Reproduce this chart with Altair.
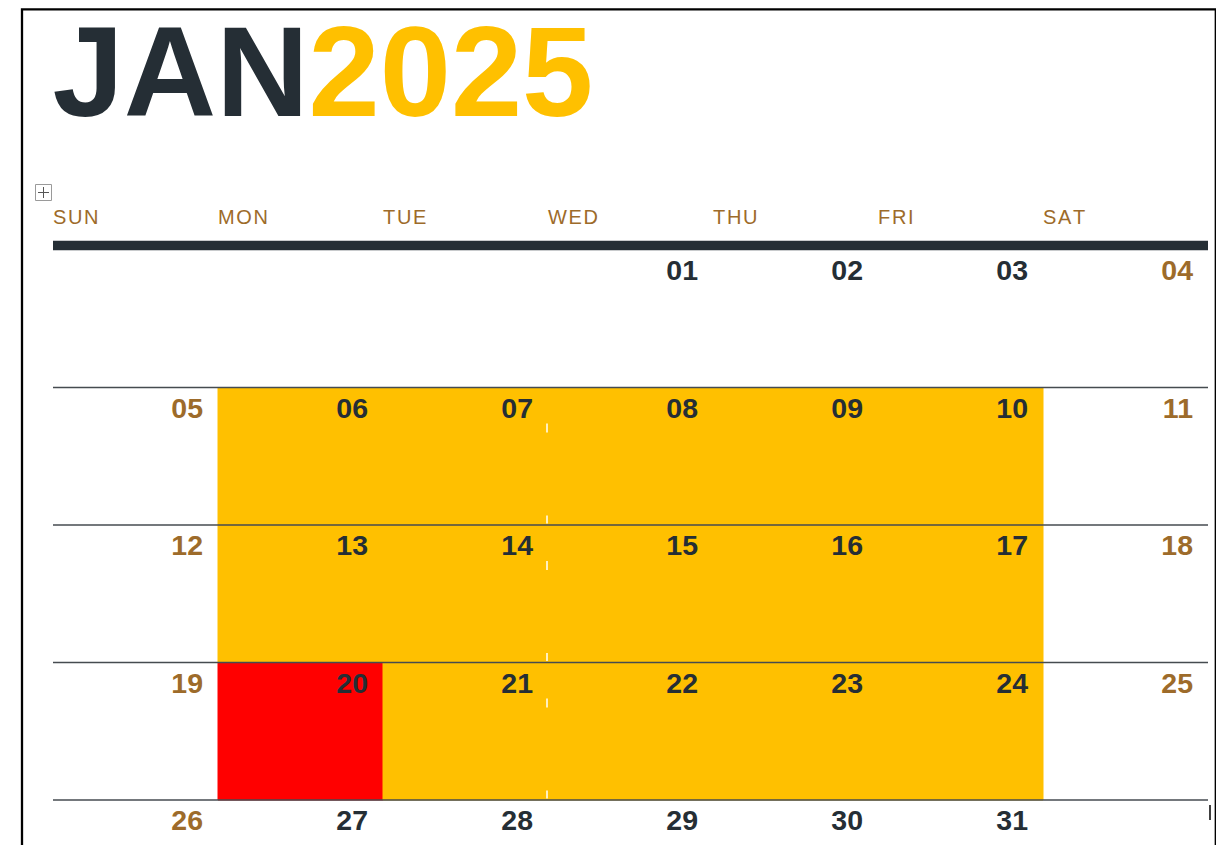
import datetime
import altair as alt
import pandas as pd

# ---- data ----
title_month = ["JAN"]
title_year = ["2025"]
weekday_names = ["SUN", "MON", "TUE", "WED", "THU", "FRI", "SAT"]
day_labels = ["01", "02", "03", "04", "05", "06", "07", "08", "09", "10",
              "11", "12", "13", "14", "15", "16", "17", "18", "19", "20",
              "21", "22", "23", "24", "25", "26", "27", "28", "29", "30", "31"]
yellow_days = [6, 7, 8, 9, 10, 13, 14, 15, 16, 17, 21, 22, 23, 24]
red_days = [20]
row_lines = [1, 2, 3, 4]
artifact_rows = [1, 2, 3]

DARK = "#252E35"
GOLD = "#FFC000"
BROWN = "#9D6B2A"
RED = "#FF0000"
FONT = "Liberation Sans"

# ---- tables ----
first = datetime.date(2025, 1, 1)
offset = (first.weekday() + 1) % 7  # Sunday-first column of day 1
recs = []
for i, lab in enumerate(day_labels):
    d = i + 1
    pos = offset + i
    col, row = pos % 7, pos // 7
    if d in red_days:
        fill = "red"
    elif d in yellow_days:
        fill = "yellow"
    else:
        fill = "none"
    recs.append({"day": d, "label": lab, "col": col, "col2": col + 1,
                 "row": row, "row2": row + 1,
                 "weekend": bool(col in (0, 6)), "fill": fill})
days_df = pd.DataFrame(recs)
cells_df = days_df[days_df["fill"] != "none"]
head_df = pd.DataFrame({"name": ["\u200a".join(n) for n in weekday_names],
                        "col": list(range(7)), "row": [0] * 7})
lines_df = pd.DataFrame({"row": row_lines, "x0": [0] * len(row_lines), "x1": [7] * len(row_lines)})
bar_df = pd.DataFrame({"row": [0], "x0": [0], "x1": [7]})
art_df = pd.DataFrame({"row": artifact_rows, "col": [3] * len(artifact_rows)})
cursor_df = pd.DataFrame({"row": [4], "col": [7]})

XS = alt.Scale(domain=[0, 7], range=[45, 1200], zero=False, nice=False)
YS = alt.Scale(domain=[0, 5], range=[242, 929.5], zero=False, nice=False)


def X(f):
    return alt.X(f"{f}:Q", scale=XS, axis=None)


def Y(f):
    return alt.Y(f"{f}:Q", scale=YS, axis=None)


cell_color = alt.condition("datum.fill == 'red'", alt.value(RED), alt.value(GOLD))
cells = alt.Chart(cells_df).mark_rect(strokeWidth=1).encode(
    x=X("col"), x2="col2", y=Y("row"), y2="row2",
    fill=cell_color, stroke=cell_color,
)

art_top = alt.Chart(art_df).mark_rule(color="white", strokeWidth=1.5, xOffset=-1, yOffset=36, y2Offset=45).encode(
    x=X("col"), y=Y("row"), y2="row")
art_bot = alt.Chart(art_df).mark_rule(color="white", strokeWidth=1.5, xOffset=-1, yOffset=128, y2Offset=136).encode(
    x=X("col"), y=Y("row"), y2="row")

lines = alt.Chart(lines_df).mark_rule(color="#464b50", strokeWidth=1.3).encode(
    x=X("x0"), x2="x1", y=Y("row"))

bar = alt.Chart(bar_df).mark_rule(color=DARK, strokeWidth=9.5, yOffset=-4.5, strokeCap="butt").encode(
    x=X("x0"), x2="x1", y=Y("row"))

numbers = alt.Chart(days_df).mark_text(
    font=FONT, fontSize=28.5, fontWeight="bold", align="right", baseline="alphabetic", dx=-15, dy=30
).encode(
    x=X("col2"), y=Y("row"), text="label:N",
    color=alt.condition("datum.weekend", alt.value(BROWN), alt.value(DARK)),
)

heads = alt.Chart(head_df).mark_text(
    font=FONT, fontSize=20, align="left", baseline="alphabetic", dy=-26.5, color=BROWN
).encode(x=X("col"), y=Y("row"), text="name:N")

t_month = alt.Chart(pd.DataFrame({"t": title_month})).mark_text(
    font=FONT, fontSize=128, fontWeight="bold", align="left", baseline="alphabetic", color=DARK
).encode(x=alt.value(44.5), y=alt.value(108), text="t:N")

t_year = alt.Chart(pd.DataFrame({"t": title_year})).mark_text(
    font=FONT, fontSize=128, fontWeight="bold", align="left", baseline="alphabetic", color=GOLD
).encode(x=alt.value(300.5), y=alt.value(108), text="t:N")

cursor = alt.Chart(cursor_df).mark_rule(color="black", strokeWidth=1.5, xOffset=2, yOffset=5, y2Offset=20).encode(
    x=X("col"), y=Y("row"), y2="row")

border = alt.Chart(pd.DataFrame({"a": [0]})).mark_rect(fill=None, stroke="black", strokeWidth=2.3).encode(
    x=alt.value(14), x2=alt.value(1207.8), y=alt.value(1.3), y2=alt.value(1000))

icon_box = alt.Chart(pd.DataFrame({"a": [0]})).mark_rect(fill="white", stroke="#9a9a9a", strokeWidth=1).encode(
    x=alt.value(27.5), x2=alt.value(43.5), y=alt.value(176.5), y2=alt.value(192.5))
icon_h = alt.Chart(pd.DataFrame({"a": [0]})).mark_rule(color="#555555", strokeWidth=1).encode(
    x=alt.value(30), x2=alt.value(41), y=alt.value(184.5))
icon_v = alt.Chart(pd.DataFrame({"a": [0]})).mark_rule(color="#555555", strokeWidth=1).encode(
    x=alt.value(35.5), y=alt.value(179), y2=alt.value(190))

chart = alt.layer(
    cells, art_top, art_bot, lines, bar, numbers, heads, t_month, t_year, cursor, border, icon_box, icon_h, icon_v
).properties(
    width=1208, height=837, padding=0, autosize=alt.AutoSizeParams(type="none"), background="white"
).configure_view(stroke=None)

chart.save("out.html", embed_options={"renderer": "svg", "actions": False})
